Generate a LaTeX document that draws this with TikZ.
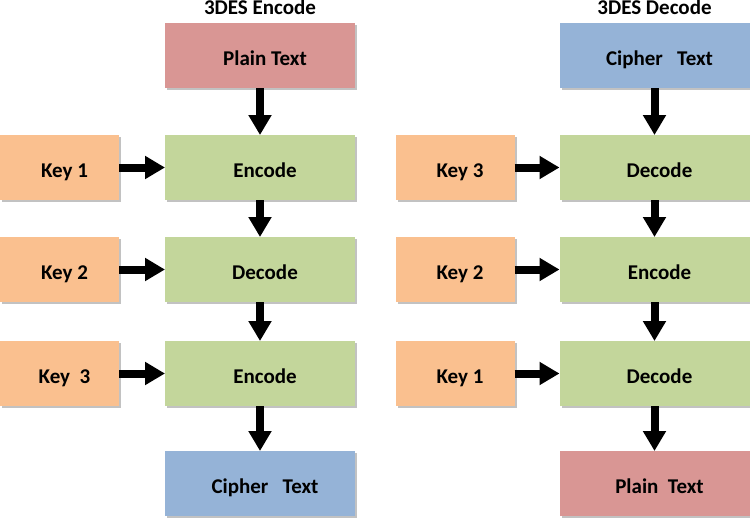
\documentclass[tikz,border=0pt]{standalone}
\usepackage{fontspec}
\setmainfont{Carlito}
\usepackage{tikz}
\usetikzlibrary{arrows.meta,positioning,shadows}
\definecolor{plainred}{RGB}{217,150,148}
\definecolor{stepgreen}{RGB}{195,214,155}
\definecolor{keyorange}{RGB}{250,192,143}
\definecolor{cipherblue}{RGB}{149,179,215}

\begin{document}
\begin{tikzpicture}[
  x=1pt, y=1pt,
  block/.style={minimum height=65pt, minimum width=190pt, outer sep=0pt,
    inner sep=0pt, text height=19pt, text depth=0pt,
    execute at begin node={\hspace*{10pt}},
    font=\fontsize{21}{25}\selectfont\bfseries,
    drop shadow={shadow xshift=2pt, shadow yshift=-2pt, opacity=0.4,
      fill=black!60}},
  plain/.style={block, fill=plainred},
  cipher/.style={block, fill=cipherblue},
  stage/.style={block, fill=stepgreen},
  keybox/.style={block, fill=keyorange, minimum width=119pt},
  title/.style={font=\fontsize{21}{25}\selectfont\bfseries, inner sep=0pt},
  arr/.style={-{Triangle[length=20pt, width=22pt]}, line width=8pt}
]
\useasboundingbox (0,0) rectangle (750,-520);

% Encode column
\node[plain] (plainA) at (260,-55.5) {Plain Text};
\node[stage, below=47pt of plainA] (encA) {Encode};
\node[stage, below=37pt of encA] (decA) {Decode};
\node[stage, below=39pt of decA] (encB) {Encode};
\node[cipher, below=45pt of encB] (cipherA) {Cipher\ \ \ Text};
\node[title, above=8pt of plainA] (titleA) {3DES Encode};

\node[keybox, left=46pt of encA] (keyA1) {Key 1};
\node[keybox, left=46pt of decA] (keyA2) {Key 2};
\node[keybox, left=46pt of encB] (keyA3) {Key\ \ 3};

% Decode column
\node[cipher] (cipherB) at (654.5,-55.5) {Cipher\ \ \ Text};
\node[stage, below=47pt of cipherB] (decB) {Decode};
\node[stage, below=37pt of decB] (encC) {Encode};
\node[stage, below=39pt of encC] (decC) {Decode};
\node[plain, below=45pt of decC] (plainB) {Plain\ \ Text};
\node[title, above=8pt of cipherB] (titleB) {3DES Decode};

\node[keybox, left=45pt of decB] (keyB3) {Key 3};
\node[keybox, left=45pt of encC] (keyB2) {Key 2};
\node[keybox, left=45pt of decC] (keyB1) {Key 1};

% Arrows
\draw[arr] (plainA) -- (encA);
\draw[arr] (encA) -- (decA);
\draw[arr] (decA) -- (encB);
\draw[arr] (encB) -- (cipherA);
\draw[arr] (keyA1) -- (encA);
\draw[arr] (keyA2) -- (decA);
\draw[arr] (keyA3) -- (encB);

\draw[arr] (cipherB) -- (decB);
\draw[arr] (decB) -- (encC);
\draw[arr] (encC) -- (decC);
\draw[arr] (decC) -- (plainB);
\draw[arr] (keyB3) -- (decB);
\draw[arr] (keyB2) -- (encC);
\draw[arr] (keyB1) -- (decC);

\end{tikzpicture}
\end{document}
